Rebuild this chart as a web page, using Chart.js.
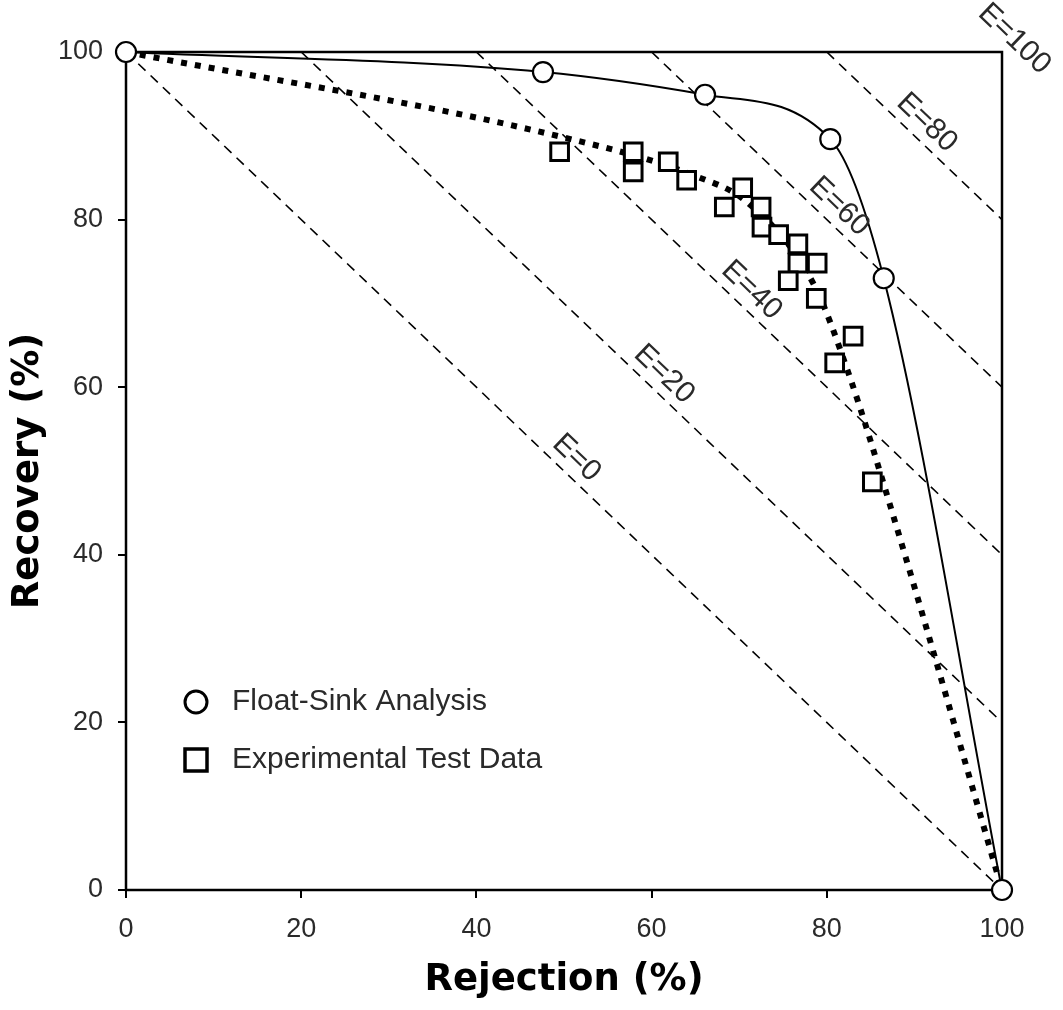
<!DOCTYPE html>
<html>
<head>
<meta charset="utf-8">
<title>Recovery vs Rejection</title>
<script src="https://cdn.jsdelivr.net/npm/chart.js@4/dist/chart.umd.min.js"></script>
<style>
  html, body { margin: 0; padding: 0; background: #fff; }
  canvas { display: block; }
</style>
</head>
<body>
<canvas id="sepChart" width="1063" height="1010"></canvas>
<script>
// Float-sink analysis (solid curve, open circles)
const floatSinkRejection = [0, 47.6, 66.1, 80.4, 86.5, 100];
const floatSinkRecovery  = [100, 97.6, 94.9, 89.6, 73.0, 0];

// Experimental test data (open squares)
const testRejection = [49.5, 57.9, 57.9, 61.9, 64.0, 70.4, 68.3, 72.5, 72.6, 74.5, 76.7, 76.7, 78.9, 75.6, 78.8, 83.0, 80.9, 85.2];
const testRecovery  = [88.1, 88.1, 85.7, 86.9, 84.7, 83.8, 81.5, 81.5, 79.1, 78.2, 77.1, 74.8, 74.8, 72.7, 70.6, 66.1, 62.9, 48.7];

// dotted trend drawn through the test data
const trendRejection = [0, 50, 65, 71, 78.5, 82.5, 87.4, 100];
const trendRecovery  = [100, 89.8, 85.2, 82.0, 72.3, 61.6, 45.3, 0];

// separation efficiency lines, E = Recovery + Rejection - 100
const efficiencies = [0, 20, 40, 60, 80, 100];

const xTicks = [0, 20, 40, 60, 80, 100];
const yTicks = [0, 20, 40, 60, 80, 100];

const legendItems = ["Float-Sink Analysis", "Experimental Test Data"];

const TEXT = "#2a2a2a";
const LABEL_FONT = "Liberation Sans, Arial, sans-serif";
const TITLE_FONT = "DejaVu Sans, Verdana, sans-serif";

function toXY(xs, ys) {
  return xs.map((x, i) => ({ x: x, y: ys[i] }));
}

const datasets = [
  {
    label: legendItems[0],
    data: toXY(floatSinkRejection, floatSinkRecovery),
    borderColor: "#000",
    borderWidth: 2,
    cubicInterpolationMode: "monotone",
    pointStyle: "circle",
    pointRadius: 10,
    pointBorderWidth: 2.2,
    pointBackgroundColor: "#fff",
    pointBorderColor: "#000",
    clip: false
  },
  {
    label: legendItems[1],
    data: toXY(testRejection, testRecovery),
    showLine: false,
    pointStyle: "rect",
    pointRadius: 12.5,
    pointBorderWidth: 3,
    pointBackgroundColor: "#fff",
    pointBorderColor: "#000"
  },
  {
    label: "trend",
    data: toXY(trendRejection, trendRecovery),
    borderColor: "#000",
    borderWidth: 6,
    borderDash: [6, 8],
    borderCapStyle: "butt",
    cubicInterpolationMode: "monotone",
    pointRadius: 0
  }
];

// one dashed line per efficiency value, from (E,100) to (100,E)
efficiencies.filter(e => e < 100).forEach(e => {
  datasets.push({
    label: "E=" + e,
    data: [{ x: e, y: 100 }, { x: 100, y: e }],
    borderColor: "#000",
    borderWidth: 1.6,
    borderDash: [10, 7],
    pointRadius: 0
  });
});

const decorPlugin = {
  id: "decor",
  beforeDatasetsDraw(chart) {
    const { ctx, chartArea: a } = chart;
    ctx.save();
    ctx.strokeStyle = "#000";
    ctx.lineWidth = 2.5;
    ctx.strokeRect(a.left, a.top, a.right - a.left, a.bottom - a.top);
    ctx.restore();
  },
  afterDatasetsDraw(chart) {
    const { ctx, chartArea: a } = chart;
    const xs = chart.scales.x, ys = chart.scales.y;

    // E labels, rotated along the dashed lines
    const dx = xs.getPixelForValue(100) - xs.getPixelForValue(0);
    const dy = ys.getPixelForValue(0) - ys.getPixelForValue(100);
    const ang = Math.atan2(dy, dx);
    ctx.save();
    ctx.fillStyle = TEXT;
    ctx.font = "30px " + LABEL_FONT;
    ctx.textAlign = "center";
    ctx.textBaseline = "middle";
    efficiencies.forEach(e => {
      const mid = (100 + e) / 2;
      const px = xs.getPixelForValue(mid) + 18 * Math.sin(ang);
      const py = ys.getPixelForValue(mid) - 18 * Math.cos(ang);
      ctx.save();
      ctx.translate(px, py);
      ctx.rotate(ang);
      ctx.fillText("E=" + e, 0, 0);
      ctx.restore();
    });
    ctx.restore();

    // legend inside the plot, lower left
    const lx = a.left + 70;
    const tx = a.left + 106;
    const y1 = a.top + 650;
    const y2 = a.top + 708;
    ctx.save();
    ctx.strokeStyle = "#000";
    ctx.fillStyle = "#fff";
    ctx.lineWidth = 3;
    ctx.beginPath();
    ctx.arc(lx, y1, 11, 0, Math.PI * 2);
    ctx.fill();
    ctx.stroke();
    ctx.lineWidth = 3.5;
    ctx.fillRect(lx - 11, y2 - 11, 22, 22);
    ctx.strokeRect(lx - 11, y2 - 11, 22, 22);
    ctx.fillStyle = TEXT;
    ctx.font = "30px " + LABEL_FONT;
    ctx.textAlign = "left";
    ctx.textBaseline = "middle";
    ctx.fillText(legendItems[0], tx, y1);
    ctx.fillText(legendItems[1], tx, y2);
    ctx.restore();
  }
};

const ctx = document.getElementById("sepChart");

new Chart(ctx, {
  type: "line",
  data: { datasets },
  plugins: [decorPlugin],
  options: {
    responsive: false,
    animation: false,
    layout: { padding: { left: 0, top: 52, right: 61, bottom: 0 } },
    plugins: {
      legend: { display: false },
      tooltip: { enabled: false }
    },
    scales: {
      x: {
        type: "linear",
        min: 0,
        max: 100,
        afterBuildTicks: s => { s.ticks = xTicks.map(v => ({ value: v })); },
        afterFit: s => { s.height = 120; },
        ticks: {
          color: TEXT,
          font: { family: LABEL_FONT, size: 27 },
          padding: 15,
          maxRotation: 0
        },
        grid: {
          drawOnChartArea: false,
          tickLength: 8,
          color: "#000",
          lineWidth: 2
        },
        border: { display: false },
        title: {
          display: true,
          text: "Rejection (%)",
          color: "#000",
          font: { family: TITLE_FONT, size: 37, weight: "bold", lineHeight: 1.2 },
          padding: { top: 0, bottom: 7 }
        }
      },
      y: {
        type: "linear",
        min: 0,
        max: 100,
        afterBuildTicks: s => { s.ticks = yTicks.map(v => ({ value: v })); },
        afterFit: s => { s.width = 126; },
        ticks: {
          color: TEXT,
          font: { family: LABEL_FONT, size: 27 },
          padding: 15
        },
        grid: {
          drawOnChartArea: false,
          tickLength: 8,
          color: "#000",
          lineWidth: 2
        },
        border: { display: false },
        title: {
          display: true,
          text: "Recovery (%)",
          color: "#000",
          font: { family: TITLE_FONT, size: 37, weight: "bold", lineHeight: 1.2 },
          padding: { top: 6, bottom: 0 }
        }
      }
    }
  }
});
</script>
</body>
</html>
